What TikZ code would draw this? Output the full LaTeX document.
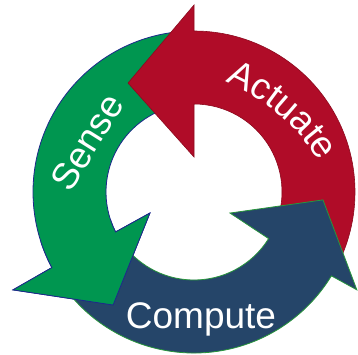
\documentclass[tikz,border=0pt]{standalone}
\usepackage{fontspec}
\setmainfont{Liberation Sans}
\usetikzlibrary{decorations.text}
\definecolor{cred}{RGB}{176,12,40}
\definecolor{cgreen}{RGB}{0,150,80}
\definecolor{cblue}{RGB}{37,69,105}
\definecolor{cnavy}{RGB}{30,40,140}
\definecolor{cgline}{RGB}{40,150,60}
\definecolor{crline}{RGB}{140,10,30}
\newcommand\GreenArrowShape{(95:161) arc[start angle=95,end angle=208,radius=161] -- (208.4:205.8) -- (234.4:139) -- (205.5:48.8) -- (207:88) arc[start angle=207,end angle=95,radius=88] -- cycle}
\tikzset{
  greenarrow/.style={fill=cgreen,draw=cnavy,line width=0.8pt,line join=miter},
  redarrow/.style={fill=cred,draw=crline,line width=0.6pt,line join=miter},
  bluearrow/.style={fill=cblue,draw=cgline,line width=0.8pt,line join=miter},
  lbl/.style={text=white,font=\fontsize{37}{37}\selectfont,inner sep=0pt}
}
\begin{document}
\begin{tikzpicture}[x=1pt,y=1pt]
\useasboundingbox (-194,-162) rectangle (164,192);
% green (Sense)
\path[greenarrow] \GreenArrowShape;
% red (Actuate)
\path[redarrow] (-25:161) arc[start angle=-25,end angle=90,radius=161] -- (90:187) -- (121.2:127.4) -- (90:35) -- (90:88) arc[start angle=90,end angle=-25,radius=88] -- cycle;
% blue (Compute)
\path[bluearrow] (213:161) arc[start angle=213,end angle=328.6,radius=161] -- (329:190) -- (356.5:129.2) -- (329.7:41.7) -- (328:88) arc[start angle=328,end angle=213,radius=88] -- cycle;
% green head again, on top of the blue tail
\begin{scope}
  \clip (0,0) -- (198:300) arc[start angle=198,end angle=250,radius=300] -- cycle;
  \path[greenarrow] \GreenArrowShape;
\end{scope}
% labels
\node[lbl,anchor=base] (compute) at (7,-136) {Compute};
\node[lbl,rotate=58] (sense) at (-107,50) {Sense};
\path[shift={(-50,-80)},decorate,decoration={text along path,text={|\fontsize{37}{37}\selectfont|Actuate},text color=white,text align=center}] (72:207) arc[start angle=72,end angle=27,radius=207];
\end{tikzpicture}
\end{document}
